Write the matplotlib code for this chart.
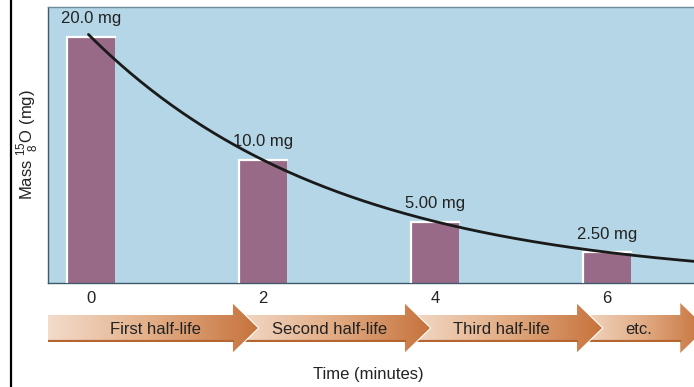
import numpy as np
import matplotlib
matplotlib.use("Agg")
import matplotlib.pyplot as plt
from matplotlib.patches import Polygon
from matplotlib.lines import Line2D
from matplotlib.colors import LinearSegmentedColormap

plt.rcParams['font.family'] = ['Liberation Sans', 'DejaVu Sans']
plt.rcParams['mathtext.fontset'] = 'custom'
plt.rcParams['mathtext.rm'] = 'Liberation Sans'

# O-15 decay: mass left after each half-life (half-life = 2 min)
times = [0, 2, 4, 6]
masses = [20.0, 10.0, 5.00, 2.50]
mass_labels = ["20.0 mg", "10.0 mg", "5.00 mg", "2.50 mg"]
tick_labels = ["0", "2", "4", "6"]
half_life = 2.0
initial_mass = 20.0
period_labels = ["First half-life", "Second half-life", "Third half-life", "etc."]
period_edges = [-0.5, 2, 4, 6, 7.2]

bg = '#b4d6e6'
bar_color = '#996a87'
text_color = '#222222'
fs = 12

fig = plt.figure(figsize=(6.94, 3.87), dpi=100)
ax = fig.add_axes([48 / 694, 104 / 387, 646 / 694, 276 / 387])
ax.set_facecolor(bg)

bars = ax.bar(times, masses, width=0.55, color=bar_color, zorder=2)
# white highlight on left and top edge of each bar
for b in bars:
    x0, y0 = b.get_x(), b.get_y()
    x1, y1 = x0 + b.get_width(), y0 + b.get_height()
    ax.plot([x0, x0, x1], [y0, y1, y1], color='white', lw=1.6, zorder=3,
            solid_joinstyle='miter')

for t, m, lab in zip(times, masses, mass_labels):
    ax.annotate(lab, (t, m), xytext=(0, 13), textcoords='offset points',
                ha='center', va='center', fontsize=fs, color=text_color)

tt = np.linspace(-0.03, 7.2, 300)
ax.plot(tt, initial_mass * 0.5 ** (tt / half_life), color='#1a1a1a', lw=2.0,
        zorder=4, solid_capstyle='round')

ax.set_xlim(-0.5, 7.01)
ax.set_ylim(0, 22.44)
ax.set_xticks(times)
ax.set_xticklabels(tick_labels, fontsize=fs, color=text_color)
ax.set_yticks([])
ax.tick_params(axis='x', length=0, pad=6)
for side in ['left', 'bottom', 'top']:
    ax.spines[side].set_color('#3f5b6b')
    ax.spines[side].set_linewidth(1.0)
ax.spines['top'].set_color('#6d8a99')
ax.spines['right'].set_visible(False)

# half-life arrows
axa = fig.add_axes([48 / 694, 31 / 387, 646 / 694, 56 / 387])
axa.set_xlim(-0.5, 7.01)
axa.set_ylim(0, 56)
axa.axis('off')

head_len = 0.30
tip_shift = 0.05
head_bot, head_top = 3, 53
body_bot, body_top = 14, 41
cmap = LinearSegmentedColormap.from_list('arrow', ['#f3dccb', '#e2ad86', '#c6723b'])
grad = np.linspace(0, 1, 256).reshape(1, -1)

n = len(period_labels)
for i in reversed(range(n)):
    tip = period_edges[i + 1] - tip_shift
    base = tip - head_len
    left = period_edges[i] if i == 0 else period_edges[i] - tip_shift - head_len
    pts = [(left, body_bot), (base, body_bot), (base, head_bot), (tip, 28),
           (base, head_top), (base, body_top), (left, body_top)]
    poly = Polygon(pts, closed=True, facecolor='none', edgecolor='none',
                   transform=axa.transData)
    axa.add_patch(poly)
    im = axa.imshow(grad, cmap=cmap, aspect='auto',
                    extent=[left, tip, head_bot, head_top], zorder=1 + (n - i))
    im.set_clip_path(poly)
    line, = axa.plot([left, base], [body_bot + 0.8, body_bot + 0.8],
                     color='#b5652f', lw=1.6, zorder=1 + (n - i))
    line.set_clip_path(poly)
    if i < n - 1:
        axa.plot([base, tip, base], [head_top, 28, head_bot], color='white',
                 lw=0.8, zorder=1 + (n - i))
    mid = (left + base) / 2 if i > 0 else (period_edges[i] + base) / 2 + 0.05
    axa.text(mid + 0.12, 27, period_labels[i], ha='center', va='center',
             fontsize=fs, color=text_color, zorder=10)

fig.text(368 / 694, 1 - 375 / 387, "Time (minutes)", ha='center', va='center',
         fontsize=fs, color=text_color)
fig.text(27 / 694, 1 - 145 / 387, r"Mass $^{15}_{\ 8}$O (mg)", rotation=90,
         ha='center', va='center', fontsize=fs, color=text_color)

fig.add_artist(Line2D([11 / 694, 11 / 694], [0, 1], color='black', lw=1.6))

fig.savefig('out.png', dpi=100)
